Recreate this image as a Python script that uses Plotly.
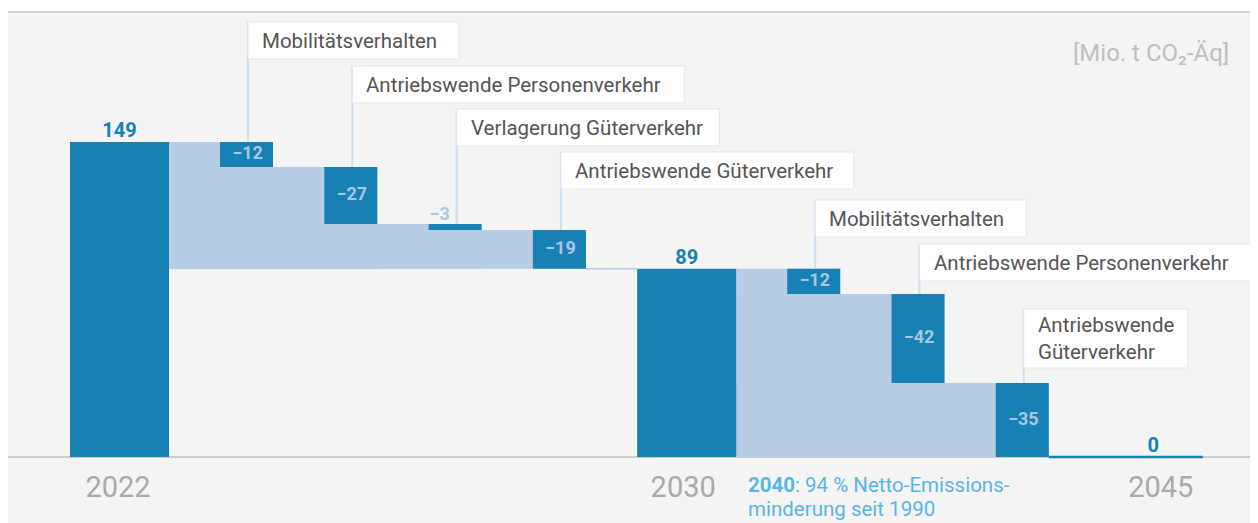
import plotly.graph_objects as go

# ---------------- data ----------------
total_years = ["2022", "2030", "2045"]
total_values = [149, 89, 0]
total_text = ["149", "89", "0"]

steps1_names = ["Mobilitätsverhalten", "Antriebswende Personenverkehr",
                "Verlagerung Güterverkehr", "Antriebswende Güterverkehr"]
steps1_values = [-11.8, -27.0, -2.8, -18.4]
steps1_text = ["−12", "−27", "−3", "−19"]

steps2_names = ["Mobilitätsverhalten", "Antriebswende Personenverkehr",
                "Antriebswende<br>Güterverkehr"]
steps2_values = [-11.9, -42.1, -35.0]
steps2_text = ["−12", "−42", "−35"]

unit_label = "[Mio. t CO₂-Äq]"
note_lines = ["<b>2040</b>: 94 % Netto-Emissions-", "minderung seit 1990"]

# ---------------- styling / geometry ----------------
FONT = "Roboto"
DARK = "#1781b4"
LIGHT = "#b7cde3"
LABEL_LIGHT = "#a9c6e3"
LINE_C = "#cddff0"
BOX_BORDER = "#dfe9f4"
TEXT_C = "#555555"
PANEL = "#f4f4f4"

OFF = 8                      # page body margin
W, H = 1258 - OFF, 523 - OFF  # figure size
REF_T, REF_B = 12, 523       # plot area top/bottom in window pixels
Y_MAX, Y_MIN = 210.5, -31.2
PLOT_H = REF_B - REF_T


def py2y(px):
    return Y_MAX - (px - REF_T) / PLOT_H * (Y_MAX - Y_MIN)


BIG_W, STEP_W, GAP, PITCH, END_GAP = 99, 53, 51, 104.3, 55
X0 = 70
TICK_SHIFT = [-1.5, -3.5, 7.5]

big_left = [X0]
s1_left = [X0 + BIG_W + GAP + i * PITCH for i in range(len(steps1_values))]
big_left.append(s1_left[-1] + PITCH)
s2_left = [big_left[1] + BIG_W + GAP + i * PITCH for i in range(len(steps2_values))]
big_left.append(s2_left[-1] + STEP_W + END_GAP)
big_center = [l + BIG_W / 2 for l in big_left]

fig = go.Figure()


def section(start_val, start_right, lefts, values, end_val):
    level = start_val
    bases, heights, tops = [], [], []
    lx, lw, lb, lh = [], [], [], []
    for l, v in zip(lefts, values):
        tops.append(level)
        bases.append(level + v)
        heights.append(-v)
        right = l + STEP_W
        lx.append((start_right + right) / 2)
        lw.append(right - start_right)
        lb.append(end_val)
        lh.append(level - end_val)
        level = level + v
    return bases, heights, tops, (lx, lw, lb, lh)


b1, h1, t1, light1 = section(total_values[0], big_left[0] + BIG_W, s1_left,
                             steps1_values, total_values[1])
b2, h2, t2, light2 = section(total_values[1], big_left[1] + BIG_W, s2_left,
                             steps2_values, total_values[2])

# light background areas (as bars so they sit under the dark bars)
lx = light1[0] + light2[0]
lw = light1[1] + light2[1]
lb = light1[2] + light2[2]
lh = light1[3] + light2[3]
fig.add_trace(go.Bar(x=lx, y=lh, base=lb, width=lw,
                     marker=dict(color=LIGHT, line=dict(width=0)), hoverinfo="skip"))

# total bars
fig.add_trace(go.Bar(x=big_center, y=total_values, width=BIG_W,
                     marker=dict(color=DARK, line=dict(width=0)), hoverinfo="skip"))

# step bars
step_centers = [l + STEP_W / 2 for l in s1_left + s2_left]
fig.add_trace(go.Bar(x=step_centers, y=h1 + h2, base=b1 + b2, width=STEP_W,
                     marker=dict(color=DARK, line=dict(width=0)), hoverinfo="skip"))

# connectors
fig.add_trace(go.Scatter(x=[s1_left[-1] + STEP_W, big_left[1]],
                         y=[total_values[1]] * 2, mode="lines",
                         line=dict(color=LIGHT, width=1.5), hoverinfo="skip"))
fig.add_trace(go.Scatter(x=[s2_left[-1] + STEP_W, big_left[2] + BIG_W],
                         y=[total_values[2]] * 2, mode="lines",
                         line=dict(color=DARK, width=2.5), hoverinfo="skip"))

# total labels
fig.add_trace(go.Scatter(x=big_center, y=total_values, text=total_text,
                         mode="text", textposition="top center",
                         textfont=dict(family=FONT, size=20, color=DARK, weight="bold"),
                         hoverinfo="skip"))

# step labels
all_tops = t1 + t2
all_vals = steps1_values + steps2_values
all_text = steps1_text + steps2_text
all_lefts = s1_left + s2_left
in_x, in_y, in_t, out_x, out_y, out_t = [], [], [], [], [], []
for l, top, v, t in zip(all_lefts, all_tops, all_vals, all_text):
    if abs(v) < 5:
        out_x.append(l + 11)
        out_y.append(top)
        out_t.append(t)
    else:
        in_x.append(l + STEP_W / 2 + 1)
        in_y.append(top + v / 2)
        in_t.append(t)
fig.add_trace(go.Scatter(x=in_x, y=in_y, text=in_t, mode="text",
                         textposition="middle center",
                         textfont=dict(family=FONT, size=18, color=LABEL_LIGHT, weight="bold"),
                         hoverinfo="skip"))
fig.add_trace(go.Scatter(x=out_x, y=out_y, text=out_t, mode="text",
                         textposition="top center",
                         textfont=dict(family=FONT, size=18, color=LABEL_LIGHT, weight="bold"),
                         hoverinfo="skip"))

# annotation boxes (top px, width px, height px)
box_layout = [(22, 211, 37), (66, 332, 37), (109, 263, 37), (152, 293, 37),
              (200, 211, 37), (244, 331, 37), (309, 164, 59)]
shapes = []
annotations = []
names = steps1_names + steps2_names
for (top_px, bw, bh), l, top, name in zip(box_layout, all_lefts, all_tops, names):
    lxp = l + STEP_W / 2 + 1.5
    shapes.append(dict(type="line", xref="x", yref="y", x0=lxp, x1=lxp,
                       y0=top, y1=py2y(top_px), line=dict(color=LINE_C, width=2)))
    shapes.append(dict(type="rect", xref="x", yref="y", x0=lxp, x1=lxp + bw,
                       y0=py2y(top_px + bh), y1=py2y(top_px), fillcolor="white",
                       line=dict(color=BOX_BORDER, width=1)))
    annotations.append(dict(xref="x", yref="y", x=lxp + 12, y=py2y(top_px + bh / 2),
                            xanchor="left", yanchor="middle", align="left",
                            text=name, showarrow=False,
                            font=dict(family=FONT, size=20.5, color=TEXT_C)))

# top border line
shapes.append(dict(type="line", xref="paper", yref="paper", x0=0, x1=1, y0=1, y1=1,
                   line=dict(color="#d4d4d4", width=2)))

annotations.append(dict(xref="x", yref="y", x=1231, y=py2y(53), xanchor="right",
                        yanchor="middle", text=unit_label, showarrow=False,
                        font=dict(family=FONT, size=24, color="#c0c0c0")))
for line, ypx in zip(note_lines, [485, 509]):
    annotations.append(dict(xref="x", yref="y", x=746, y=py2y(ypx), xanchor="left",
                            yanchor="middle", align="left", text=line, showarrow=False,
                            font=dict(family=FONT, size=20.5, color="#58b6e4")))

fig.update_layout(
    width=W, height=H,
    margin=dict(l=0, r=0, t=REF_T - OFF, b=0, pad=0),
    paper_bgcolor="white", plot_bgcolor=PANEL,
    showlegend=False, barmode="overlay",
    shapes=shapes, annotations=annotations,
    xaxis=dict(range=[OFF, OFF + W], showgrid=False, zeroline=False, showline=False,
               tickvals=[c + s for c, s in zip(big_center, TICK_SHIFT)],
               ticktext=total_years, ticks="",
               tickfont=dict(family=FONT, size=29, color="#a9a9a9"),
               anchor="free", position=(REF_B - 457) / PLOT_H, ticklabelstandoff=10,
               fixedrange=True),
    yaxis=dict(range=[Y_MIN, Y_MAX], showgrid=False, showticklabels=False,
               zeroline=True, zerolinecolor="#cccccc", zerolinewidth=1.5,
               fixedrange=True),
    font=dict(family=FONT),
)

fig.write_html("out.html", config={"displayModeBar": False})
